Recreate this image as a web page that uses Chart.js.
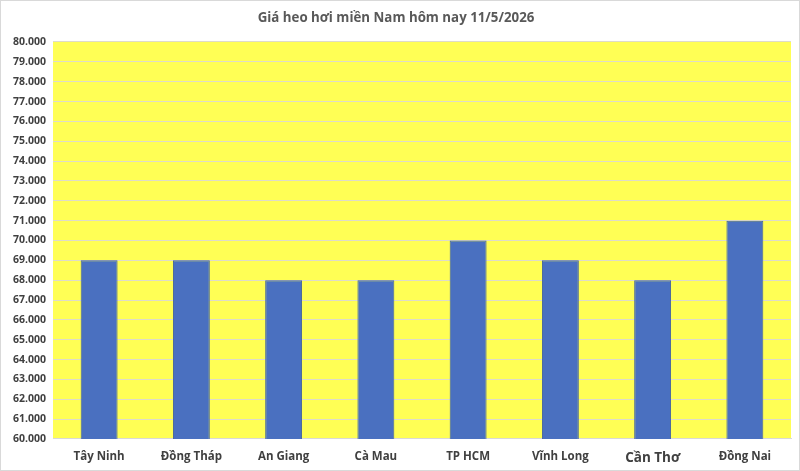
<!DOCTYPE html>
<html>
<head>
<meta charset="utf-8">
<script src="https://cdn.jsdelivr.net/npm/chart.js@4/dist/chart.umd.min.js"></script>
<style>
  html, body { margin: 0; padding: 0; background: #fff; }
  #wrap { width: 800px; height: 471px; box-sizing: border-box; border: 1px solid #d9d9d9; }
</style>
</head>
<body>
<div id="wrap"><canvas id="barChart"></canvas></div>
<script>
let categories = ["Tây Ninh", "Đồng Tháp", "An Giang", "Cà Mau", "TP HCM", "Vĩnh Long", "Cần Thơ", "Đồng Nai"];
let prices = [69000, 69000, 68000, 68000, 70000, 69000, 68000, 71000];
let yMin = 60000;
let yMax = 80000;
let yStep = 1000;

// vùng nền vàng cho khu vực vẽ
const plotBackground = {
  id: "plotBackground",
  beforeDraw(chart) {
    const { ctx, chartArea } = chart;
    ctx.save();
    ctx.fillStyle = "#ffff55";
    ctx.fillRect(chartArea.left, chartArea.top, chartArea.right - chartArea.left, chartArea.bottom - chartArea.top);
    ctx.restore();
  },
};

let fontFamily = "'Open Sans', 'Noto Sans', sans-serif";

let barChart = new Chart(document.getElementById("barChart"), {
  type: "bar",
  data: {
    labels: categories,
    datasets: [
      {
        label: "Giá",
        data: prices,
        backgroundColor: "#4a70c0",
        borderColor: "#41609f",
        borderWidth: 1,
        borderSkipped: "bottom",
      },
    ],
  },
  options: {
    responsive: true,
    maintainAspectRatio: false,
    animation: false,
    categoryPercentage: 1,
    barPercentage: 0.4,
    layout: {
      padding: { left: 0, right: 8, top: 0, bottom: 0 },
    },
    plugins: {
      legend: { display: false },
      tooltip: { enabled: false },
      title: {
        display: true,
        text: "Giá heo hơi miền Nam hôm nay 11/5/2026",
        color: "#595959",
        font: { family: fontFamily, size: 13.3, weight: "bold" },
        padding: { top: 9, bottom: 16 },
      },
    },
    scales: {
      x: {
        afterFit(axis) {
          axis.height = 31;
        },
        grid: { display: false, drawTicks: false },
        border: { display: true, color: "#d9d9d9" },
        ticks: {
          color: "#404040",
          padding: 11,
          font: (ctx) => ({
            family: fontFamily,
            size: ctx.index === 6 ? 13.5 : 11.5,
            weight: "bold",
          }),
        },
      },
      y: {
        min: yMin,
        max: yMax,
        afterFit(axis) {
          axis.width = 52;
        },
        grid: { color: "#dedcc8", drawTicks: false },
        border: { display: false },
        ticks: {
          stepSize: yStep,
          color: "#404040",
          padding: 7,
          font: { family: fontFamily, size: 10.5, weight: "bold" },
          callback: function (value) {
            return value.toLocaleString("de-DE");
          },
        },
      },
    },
  },
  plugins: [plotBackground],
});
</script>
</body>
</html>
